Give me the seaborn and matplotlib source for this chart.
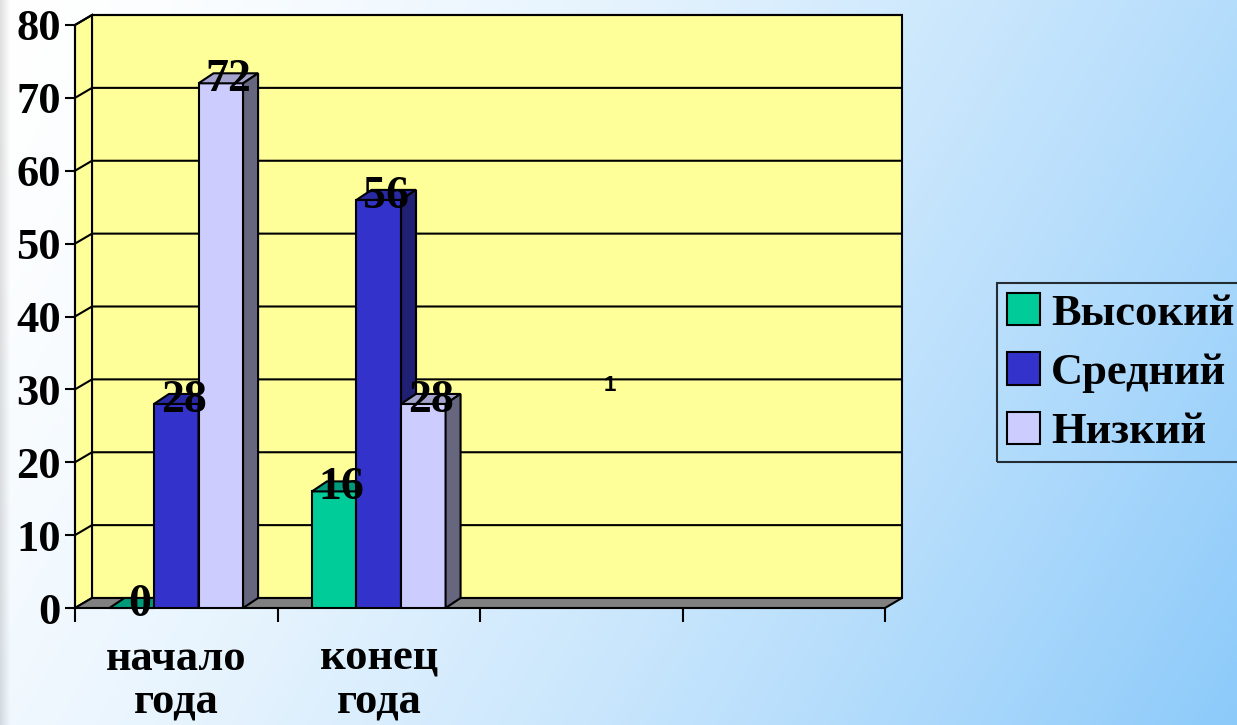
import numpy as np
import pandas as pd
import matplotlib
matplotlib.use('Agg')
import matplotlib.pyplot as plt
from matplotlib.patches import Polygon, Patch
import seaborn as sns

# Данные
categories = ['начало\nгода', 'конец\nгода']
levels = ['Высокий', 'Средний', 'Низкий']
values_high = [0, 16]
values_mid = [28, 56]
values_low = [72, 28]
y_ticks = [0, 10, 20, 30, 40, 50, 60, 70, 80]
n_slots = 4  # в исходной диаграмме 4 места по оси X, заполнены два

front_colors = {'Высокий': '#00CC99', 'Средний': '#3333CC', 'Низкий': '#CCCCFF'}
top_colors = {'Высокий': '#00997A', 'Средний': '#2929A3', 'Низкий': '#A3A3CC'}
side_colors = {'Высокий': '#006652', 'Средний': '#1F1F73', 'Низкий': '#66667F'}

df = pd.DataFrame({
    'Период': categories * 3,
    'Уровень': [lv for lv in levels for _ in categories],
    'Процент': values_high + values_mid + values_low,
})

sns.set_theme(style='white')
plt.rcParams['font.family'] = ['Liberation Serif', 'DejaVu Serif']
plt.rcParams['font.weight'] = 'bold'
for k in ['text.color', 'axes.labelcolor', 'xtick.color', 'ytick.color']:
    plt.rcParams[k] = 'black'

W, H = 1237, 725
fig = plt.figure(figsize=(W / 100, H / 100), dpi=100)

# фон-градиент
bg = fig.add_axes([0, 0, 1, 1], zorder=-10)
yy, xx = np.mgrid[0:H, 0:W]
t = np.clip(0.75 * xx / W + 0.25 * yy / H, 0, 1)
c0 = np.array([255, 255, 255]) / 255
c1 = np.array([140, 202, 250]) / 255
img = c0 + (c1 - c0) * (t[..., None] ** 1.5)
strip = np.clip(1 - xx / 10, 0, 1)[..., None]
img = img * (1 - 0.12 * strip)
bg.imshow(img, aspect='auto', extent=[0, 1, 0, 1])
bg.axis('off')

ax = fig.add_axes([75 / W, (H - 608) / H, 810 / W, 583 / H])
ax.patch.set_visible(False)
sns.barplot(data=df, x='Период', y='Процент', hue='Уровень', hue_order=levels,
            palette=front_colors, width=0.66, saturation=1, edgecolor='black',
            linewidth=1.5, errorbar=None, legend=False, ax=ax)
ax.set_xlim(-0.5, n_slots - 0.5)
ax.set_ylim(0, 80)

# глубина 3D в единицах данных
ux = 810 / n_slots
uy = 583 / 80
wx, wy = 17 / ux, 10 / uy
bx, by = 15 / ux, 10 / uy
x0, x1 = -0.5, n_slots - 0.5

# стены и пол
ax.add_patch(Polygon([(x0 + wx, wy), (x1 + wx, wy), (x1 + wx, 80 + wy), (x0 + wx, 80 + wy)],
                     fc='#FFFF99', ec='black', lw=1.5, zorder=0.5, clip_on=False))
ax.add_patch(Polygon([(x0, 0), (x0 + wx, wy), (x0 + wx, 80 + wy), (x0, 80)],
                     fc='#FFFF99', ec='black', lw=1.5, zorder=0.5, clip_on=False))
for yt in y_ticks[1:]:
    ax.plot([x0, x0 + wx, x1 + wx], [yt, yt + wy, yt + wy], color='black', lw=1.5,
            zorder=0.6, clip_on=False)
ax.add_patch(Polygon([(x0, 0), (x1, 0), (x1 + wx, wy), (x0 + wx, wy)],
                     fc='#808080', ec='black', lw=1.5, zorder=0.8, clip_on=False))

# 3D грани столбцов
bars = []
for lv, cont in zip(levels, ax.containers):
    for p in cont.patches:
        bars.append((p.get_x(), lv, p))
bars.sort(key=lambda b: b[0])
labels = []
for i, (bx0, lv, p) in enumerate(bars):
    z = 2 + i * 0.01
    w = p.get_width()
    h = p.get_height()
    p.set_zorder(z)
    ax.add_patch(Polygon([(bx0, h), (bx0 + w, h), (bx0 + w + bx, h + by), (bx0 + bx, h + by)],
                         fc=top_colors[lv], ec='black', lw=1.5, zorder=z, clip_on=False))
    ax.add_patch(Polygon([(bx0 + w, 0), (bx0 + w + bx, by), (bx0 + w + bx, h + by), (bx0 + w, h)],
                         fc=side_colors[lv], ec='black', lw=1.5, zorder=z, clip_on=False))
    labels.append((bx0 + w / 2 + bx / 2, h))

for xl, h in labels:
    ax.text(xl, h - 1.1, f'{h:.0f}', ha='center', va='baseline', fontsize=33,
            fontweight='bold', color='black', zorder=10, clip_on=False)

ax.text(2.14, 30.6, '1', ha='center', va='center', fontsize=16, fontweight='bold',
        family='Liberation Sans', color='black', zorder=10)

# оси
for s in ['top', 'right']:
    ax.spines[s].set_visible(False)
ax.spines['left'].set_color('black')
ax.spines['left'].set_linewidth(1.5)
ax.spines['bottom'].set_visible(False)
ax.set_yticks(y_ticks)
ax.set_yticklabels([str(v) for v in y_ticks])
ax.tick_params(axis='y', left=True, length=7, width=1.5, color='black',
               labelsize=32, pad=3, direction='out', labelcolor='black')
ax.set_xticks(np.arange(n_slots + 1) - 0.5)
ax.set_xticklabels([''] * (n_slots + 1))
ax.set_xticks(range(len(categories)), minor=True)
ax.set_xticklabels(categories, minor=True, fontsize=32, fontweight='bold', linespacing=1.12,
                   color='black')
ax.tick_params(axis='x', which='major', bottom=True, length=10, width=1.5, color='black',
               direction='out')
ax.tick_params(axis='x', which='minor', bottom=True, length=0, pad=22)
ax.set_xlabel('')
ax.set_ylabel('')

# легенда
handles = [Patch(facecolor=front_colors[lv], edgecolor='black', linewidth=1.5) for lv in levels]
leg = fig.legend(handles, levels, loc='upper left', bbox_to_anchor=(997 / W, 1 - 283 / H),
                 frameon=True, fancybox=False, facecolor='none', edgecolor='black',
                 prop={'family': 'Liberation Serif', 'weight': 'bold', 'size': 32},
                 handlelength=0.75, handleheight=0.75, handletextpad=0.25,
                 borderpad=0.22, labelspacing=0.42, borderaxespad=0, labelcolor='black')
leg.get_frame().set_linewidth(1.5)

fig.savefig('out.png', dpi=100)
